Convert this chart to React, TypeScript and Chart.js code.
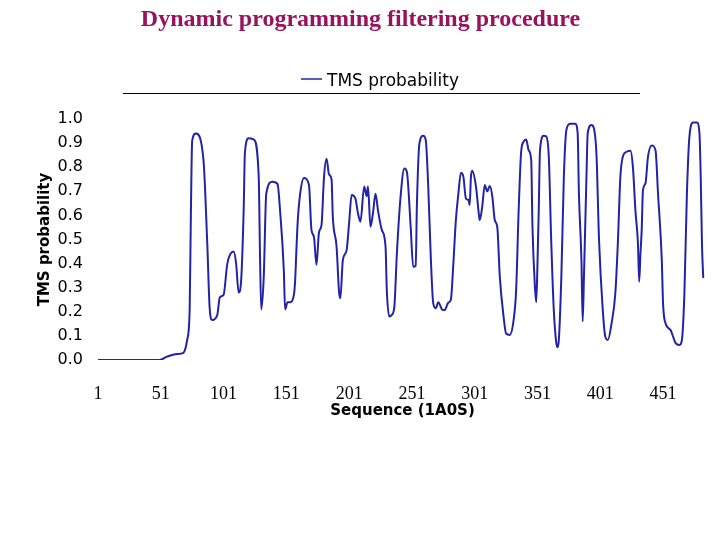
import React, { useEffect, useRef } from "react";
import { Chart, registerables } from "chart.js";

Chart.register(...registerables);

const chartTitle = "Dynamic programming filtering procedure";
const seriesLabel = "TMS probability";
const xAxisTitle = "Sequence (1A0S)";
const yAxisTitle = "TMS probability";

const xTickValues = [1, 51, 101, 151, 201, 251, 301, 351, 401, 451];
const yTickValues = [0, 0.1, 0.2, 0.3, 0.4, 0.5, 0.6, 0.7, 0.8, 0.9, 1.0];

const seqIndex = [
  1, 50, 56, 64, 69, 72, 74, 75, 76, 79, 85, 88, 90, 92, 96, 98, 101, 104, 109, 111,
  113, 115, 117, 118, 121, 125, 129, 130, 131, 133, 135, 140, 144, 146, 149, 150, 152, 154, 157, 158,
  159, 160, 162, 165, 169, 171, 173, 175, 177, 179, 181, 183, 185, 187, 188, 191, 193, 194, 196, 199,
  201, 203, 206, 208, 210, 213, 215, 216, 218, 220, 222, 224, 227, 230, 231, 233, 235, 237, 239, 242,
  245, 247, 250, 252, 254, 255, 257, 260, 262, 264, 266, 268, 270, 272, 275, 277, 280, 282, 284, 286,
  288, 290, 292, 294, 296, 297, 298, 299, 302, 304, 305, 307, 309, 311, 313, 315, 317, 319, 321, 324,
  326, 329, 332, 334, 336, 338, 340, 342, 344, 346, 347, 349, 350, 351, 352, 353, 356, 358, 360, 362,
  364, 366, 367, 368, 370, 372, 374, 377, 381, 383, 384, 386, 387, 388, 390, 391, 394, 396, 398, 400,
  403, 405, 407, 410, 413, 415, 417, 419, 422, 425, 427, 429, 431, 432, 433, 434, 435, 437, 439, 442,
  445, 447, 450, 451, 453, 457, 459, 461, 464, 466, 468, 470, 472, 475, 478, 480, 481, 482, 483,
];

const tmsProb = [
  0, 0, 0.014, 0.025, 0.03, 0.083, 0.21, 0.62, 0.91, 0.94, 0.83, 0.485, 0.21, 0.166, 0.187, 0.26, 0.27, 0.4, 0.45, 0.4,
  0.28, 0.33, 0.62, 0.86, 0.92, 0.915, 0.76, 0.44, 0.21, 0.345, 0.69, 0.74, 0.73, 0.62, 0.37, 0.21, 0.24, 0.24, 0.27, 0.33,
  0.455, 0.57, 0.69, 0.755, 0.726, 0.54, 0.51, 0.395, 0.53, 0.56, 0.76, 0.835, 0.77, 0.75, 0.595, 0.47, 0.28, 0.256, 0.415, 0.456,
  0.57, 0.685, 0.67, 0.61, 0.574, 0.72, 0.68, 0.72, 0.553, 0.61, 0.69, 0.62, 0.54, 0.47, 0.29, 0.18, 0.187, 0.22, 0.44, 0.68,
  0.795, 0.78, 0.553, 0.387, 0.39, 0.65, 0.9, 0.93, 0.913, 0.72, 0.43, 0.235, 0.215, 0.24, 0.21, 0.207, 0.238, 0.25, 0.4, 0.58,
  0.69, 0.777, 0.76, 0.67, 0.664, 0.643, 0.76, 0.785, 0.72, 0.62, 0.58, 0.636, 0.726, 0.7, 0.722, 0.68, 0.58, 0.55, 0.345, 0.18,
  0.11, 0.104, 0.166, 0.29, 0.62, 0.864, 0.906, 0.915, 0.87, 0.83, 0.553, 0.3, 0.24, 0.4, 0.62, 0.87, 0.93, 0.927, 0.844, 0.484,
  0.207, 0.07, 0.053, 0.083, 0.345, 0.76, 0.954, 0.98, 0.98, 0.94, 0.69, 0.415, 0.16, 0.345, 0.76, 0.94, 0.975, 0.96, 0.85, 0.5,
  0.207, 0.097, 0.083, 0.152, 0.277, 0.484, 0.76, 0.844, 0.864, 0.868, 0.8, 0.62, 0.484, 0.325, 0.44, 0.54, 0.705, 0.733, 0.844, 0.89,
  0.87, 0.69, 0.415, 0.235, 0.152, 0.124, 0.097, 0.07, 0.062, 0.083, 0.277, 0.69, 0.927, 0.985, 0.985, 0.94, 0.76, 0.48, 0.34,
];

const lineColor = "#2323a6";

const decorPlugin = {
  id: "decor",
  afterDraw(chart: any) {
    const ctx = chart.ctx as CanvasRenderingContext2D;
    ctx.save();
    // Title
    ctx.fillStyle = "#99125e";
    ctx.font = "bold 24px 'Liberation Serif', 'Times New Roman', serif";
    ctx.textAlign = "center";
    ctx.textBaseline = "middle";
    ctx.fillText(chartTitle, 360.5, 20);
    // Legend
    const ds = chart.data.datasets[0];
    ctx.strokeStyle = ds.borderColor;
    ctx.lineWidth = 1.5;
    ctx.beginPath();
    ctx.moveTo(301, 79);
    ctx.lineTo(322, 79);
    ctx.stroke();
    ctx.fillStyle = "#000";
    ctx.font = "17px 'DejaVu Sans', sans-serif";
    ctx.textAlign = "left";
    ctx.fillText(ds.label, 327, 82);
    // Rule under legend
    ctx.strokeStyle = "#000";
    ctx.lineWidth = 1;
    ctx.beginPath();
    ctx.moveTo(123, 93.5);
    ctx.lineTo(640, 93.5);
    ctx.stroke();
    ctx.restore();
  },
};

export default function App() {
  const canvasRef = useRef<HTMLCanvasElement | null>(null);

  useEffect(() => {
    const canvas = canvasRef.current;
    if (!canvas) return;
    const points = seqIndex.map((x, i) => ({ x, y: tmsProb[i] }));
    const chart = new Chart(canvas, {
      type: "line",
      data: {
        datasets: [
          {
            label: seriesLabel,
            data: points,
            borderColor: lineColor,
            backgroundColor: lineColor,
            borderWidth: 2,
            pointRadius: 0,
            cubicInterpolationMode: "monotone",
            fill: false,
          },
        ],
      },
      options: {
        animation: false,
        responsive: false,
        devicePixelRatio: 1,
        layout: { padding: { top: 119, left: 0, right: 13, bottom: 120 } },
        plugins: {
          legend: { display: false },
          title: { display: false },
          tooltip: { enabled: false },
        },
        scales: {
          x: {
            type: "linear",
            min: 1,
            max: 486,
            grid: { display: false, drawTicks: false },
            border: { display: false },
            afterFit: (scale: any) => {
              scale.height = 60;
            },
            afterBuildTicks: (scale: any) => {
              scale.ticks = xTickValues.map((v) => ({ value: v }));
            },
            ticks: {
              autoSkip: false,
              maxRotation: 0,
              padding: 23,
              color: "#000",
              font: { family: "'Liberation Serif', 'Times New Roman', serif", size: 18 },
              callback: (v: any) => String(v),
            },
            title: {
              display: true,
              text: xAxisTitle,
              color: "#000",
              padding: { top: 0, bottom: 0 },
              font: { family: "'DejaVu Sans', sans-serif", size: 15, weight: "bold" },
            },
          },
          y: {
            type: "linear",
            min: 0,
            max: 1,
            grid: { display: false, drawTicks: false },
            border: { display: false },
            afterFit: (scale: any) => {
              scale.width = 98;
            },
            afterBuildTicks: (scale: any) => {
              scale.ticks = yTickValues.map((v) => ({ value: v }));
            },
            ticks: {
              padding: 15,
              color: "#000",
              font: { family: "'DejaVu Sans', sans-serif", size: 16 },
              callback: (v: any) => Number(v).toFixed(1),
            },
            title: {
              display: true,
              text: yAxisTitle,
              color: "#000",
              padding: { top: 36, bottom: 0 },
              font: { family: "'DejaVu Sans', sans-serif", size: 15, weight: "bold" },
            },
          },
        },
      },
      plugins: [decorPlugin],
    });
    return () => chart.destroy();
  }, []);

  return (
    <div style={{ position: "absolute", left: 0, top: 0, width: 720, height: 540, background: "#fff" }}>
      <canvas ref={canvasRef} width={720} height={540} style={{ display: "block", width: 720, height: 540 }} />
    </div>
  );
}
